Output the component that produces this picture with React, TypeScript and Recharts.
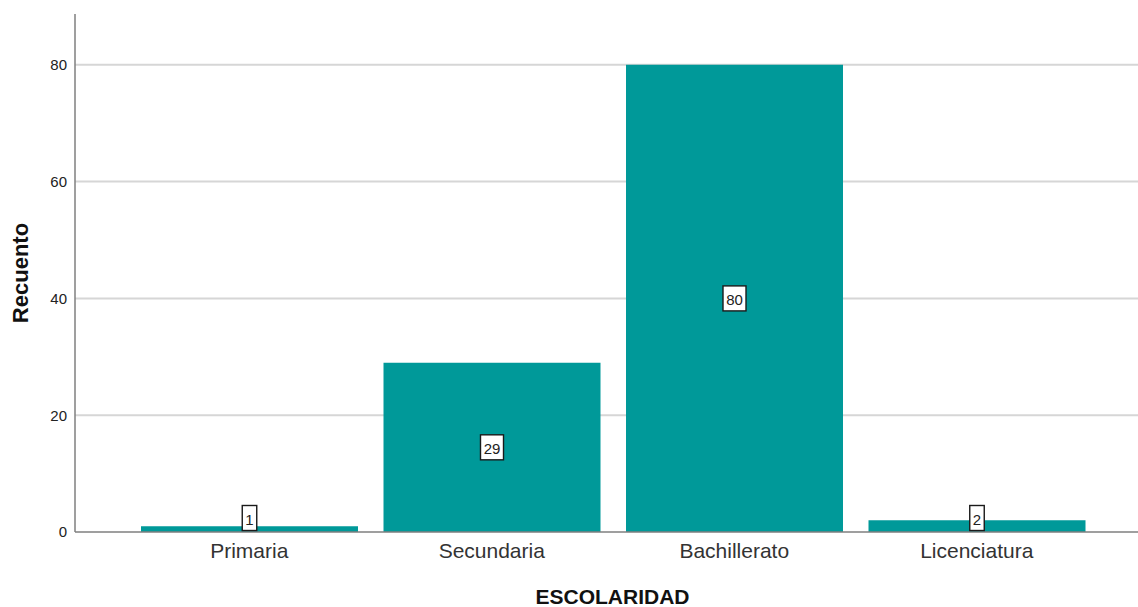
import React from "react";
import { BarChart, Bar, XAxis, YAxis, CartesianGrid, LabelList, Label } from "recharts";

// ESCOLARIDAD counts
const categories = ["Primaria", "Secundaria", "Bachillerato", "Licenciatura"];
const recuento = [1, 29, 80, 2];
const yTicks = [0, 20, 40, 60, 80];
const yMax = 88.7;

const data = categories.map((name, i) => ({ name, value: recuento[i] }));

const FONT = '"Liberation Sans", Arial, Helvetica, sans-serif';
const TEAL = "#009999";

// white box with the count, centred on the bar but kept above the axis
function ValueBox(props: any) {
  const { x, y, width, height, value } = props;
  const txt = String(value);
  const boxW = txt.length * 8.5 + 6;
  const boxH = 25;
  const cy = Math.min(y + height / 2, y + height - 14);
  const cx = x + width / 2;
  return (
    <g>
      <rect
        x={cx - boxW / 2}
        y={cy - boxH / 2}
        width={boxW}
        height={boxH}
        fill="#fff"
        stroke="#1a1a1a"
        strokeWidth={1.4}
      />
      <text
        x={cx}
        y={cy + 1}
        textAnchor="middle"
        dominantBaseline="central"
        fontFamily={FONT}
        fontSize={15}
        fill="#222"
      >
        {txt}
      </text>
    </g>
  );
}

function YTitle(props: any) {
  const { viewBox } = props;
  const cx = viewBox.x + 20;
  const cy = viewBox.y + viewBox.height / 2;
  return (
    <text
      x={cx}
      y={cy}
      transform={`rotate(-90 ${cx} ${cy})`}
      textAnchor="middle"
      dominantBaseline="central"
      fontFamily={FONT}
      fontWeight="bold"
      fontSize={22}
      fill="#111"
    >
      Recuento
    </text>
  );
}

function XTitle(props: any) {
  const { viewBox } = props;
  return (
    <text
      x={viewBox.x + viewBox.width / 2 + 6}
      y={viewBox.y + 64}
      textAnchor="middle"
      dominantBaseline="central"
      fontFamily={FONT}
      fontWeight="bold"
      fontSize={21}
      fill="#111"
    >
      ESCOLARIDAD
    </text>
  );
}

// grid lines only at the value ticks (no line at the top of the plot)
function gridRows({ offset }: any) {
  return yTicks
    .filter((t) => t > 0)
    .map((t) => offset.top + offset.height * (1 - t / yMax));
}

export default function App() {
  return (
    <div style={{ position: "absolute", left: 0, top: 0, background: "#fff" }}>
      <BarChart
        width={1138}
        height={607}
        data={data}
        margin={{ top: 14, right: 0, bottom: 0, left: 0 }}
      >
        <CartesianGrid
          vertical={false}
          stroke="#d6d6d6"
          strokeWidth={2}
          horizontalCoordinatesGenerator={gridRows}
        />
        <XAxis
          dataKey="name"
          height={75}
          padding={{ left: 53, right: 40 }}
          tickLine={false}
          axisLine={{ stroke: "#7f7f7f", strokeWidth: 1.5 }}
          tickMargin={5}
          tick={{ fontSize: 21, fill: "#333", fontFamily: FONT }}
          interval={0}
        >
          <Label content={<XTitle />} />
        </XAxis>
        <YAxis
          width={75}
          domain={[0, yMax]}
          ticks={yTicks}
          allowDataOverflow
          tickLine={false}
          axisLine={{ stroke: "#7f7f7f", strokeWidth: 1.5 }}
          tick={{ fontSize: 15, fill: "#222", fontFamily: FONT }}
        >
          <Label content={<YTitle />} />
        </YAxis>
        <Bar dataKey="value" fill={TEAL} barSize={217} isAnimationActive={false}>
          <LabelList dataKey="value" content={<ValueBox />} />
        </Bar>
      </BarChart>
    </div>
  );
}
